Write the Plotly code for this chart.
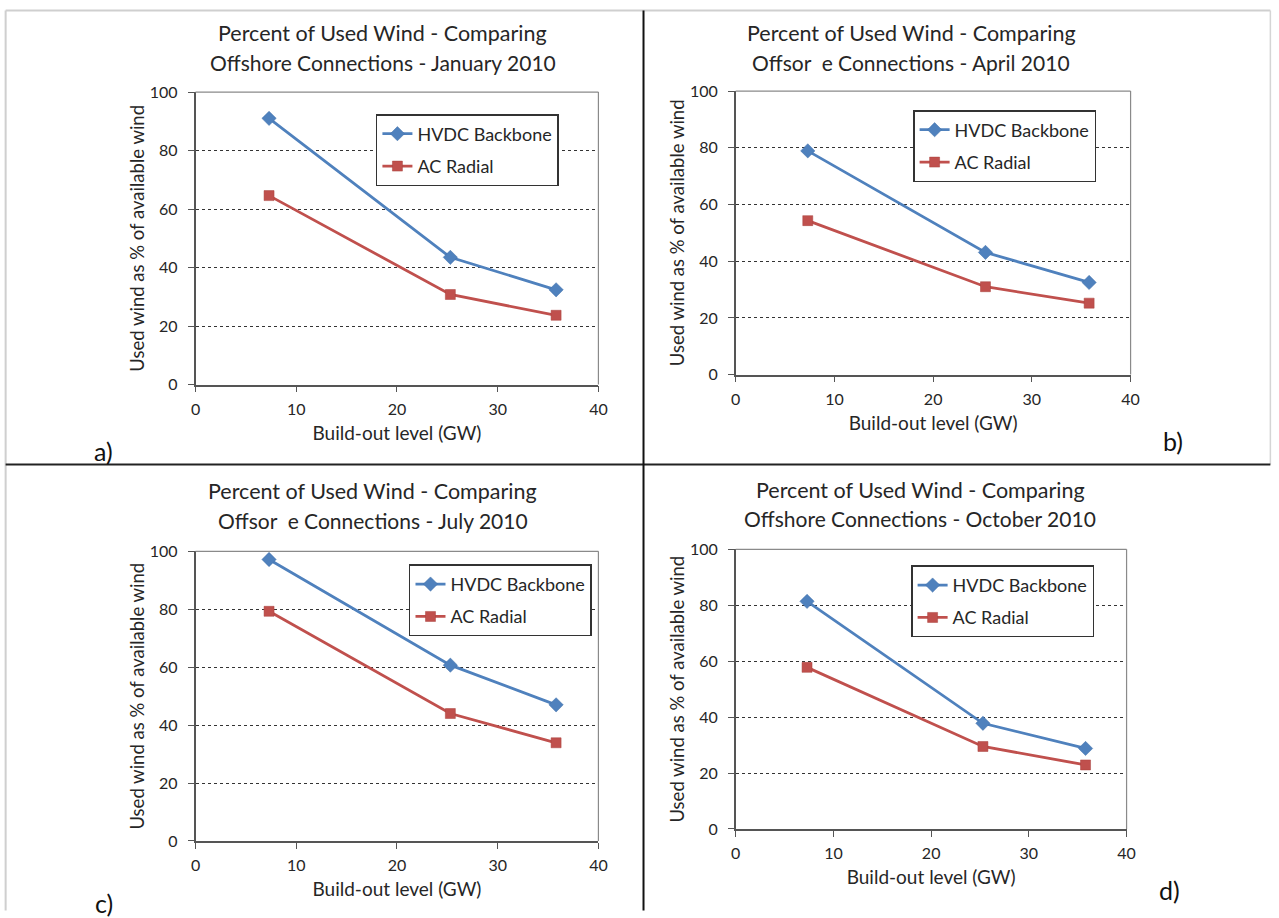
import plotly.graph_objects as go

# Target picture size and the page geometry it is taken from (the page is
# photographed slightly larger than the picture and keeps an 8px body margin).
PIC_W, PIC_H = 1279, 918
PAGE_W, PAGE_H = 1296, 936
MARGIN = 8
W, H = PAGE_W - 2 * MARGIN, PAGE_H - 2 * MARGIN
SX, SY = PAGE_W / PIC_W, PAGE_H / PIC_H

# ---------------- data ----------------
build_out_gw = [7.3, 25.3, 35.8]

months = ["January 2010", "April 2010", "July 2010", "October 2010"]
title_line1 = "Percent of Used Wind - Comparing"
title_line2 = [
    "Offshore Connections - January 2010",
    "Offsor  e Connections - April 2010",
    "Offsor  e Connections - July 2010",
    "Offshore Connections - October 2010",
]
panel_labels = ["a)", "b)", "c)", "d)"]

hvdc_jan = [91.0, 43.5, 32.4]
ac_jan = [64.6, 30.8, 23.7]
hvdc_apr = [78.9, 43.1, 32.5]
ac_apr = [54.3, 31.0, 25.2]
hvdc_jul = [97.2, 60.7, 47.0]
ac_jul = [79.3, 44.0, 33.9]
hvdc_oct = [81.4, 37.8, 28.8]
ac_oct = [57.8, 29.5, 22.9]

hvdc_series = [hvdc_jan, hvdc_apr, hvdc_jul, hvdc_oct]
ac_series = [ac_jan, ac_apr, ac_jul, ac_oct]

x_ticks = [0, 10, 20, 30, 40]
y_ticks = [0, 20, 40, 60, 80, 100]
series_names = ["HVDC Backbone", "AC Radial"]

# ---------------- layout helpers (picture pixel geometry) ----------------
def fx(p):
    return min(max((p * SX - MARGIN) / W, 0.0005), 0.9995)

def fy(p):
    return min(max(1 - (p * SY - MARGIN) / H, 0.0005), 0.9995)

# plot areas: (left, right, top, bottom) in picture pixels
plot_px = [
    (198, 600, 90, 383),
    (737, 1131, 89, 373),
    (198, 600, 550, 840),
    (737, 1127, 548, 828),
]
legend_px = [(378, 112), (914, 108), (411, 563), (912, 564)]
title_px = [(385, 31, 60), (912, 31, 60), (375, 490, 519), (921, 489, 517)]
label_px = [(106, 449), (1173, 439), (107, 902), (1170, 889)]

BLUE = "#4F81BD"
RED = "#C0504D"
TXT = "#262626"
FONT = "Lato"

fig = go.Figure()
layout = dict(
    width=W,
    height=H,
    margin=dict(l=0, r=0, t=0, b=0),
    paper_bgcolor="white",
    plot_bgcolor="white",
    font=dict(family=FONT, color=TXT),
    showlegend=True,
)
shapes = []
annotations = []

for i in range(4):
    n = "" if i == 0 else str(i + 1)
    xa, ya = "x" + n, "y" + n
    leg = "legend" if i == 0 else "legend" + str(i + 1)
    l, r, t, b = plot_px[i]

    fig.add_trace(go.Scatter(
        x=build_out_gw, y=hvdc_series[i], name=series_names[0],
        mode="lines+markers", xaxis=xa, yaxis=ya, legend=leg,
        legendgroup="h" + n,
        line=dict(color=BLUE, width=2.8),
        marker=dict(symbol="diamond", size=11, color=BLUE,
                    line=dict(color="#3f6fa8", width=0.5)),
    ))
    fig.add_trace(go.Scatter(
        x=build_out_gw, y=ac_series[i], name=series_names[1],
        mode="lines+markers", xaxis=xa, yaxis=ya, legend=leg,
        legendgroup="a" + n,
        line=dict(color=RED, width=2.8),
        marker=dict(symbol="square", size=10, color=RED,
                    line=dict(color="#a9403d", width=0.5)),
    ))

    layout["xaxis" + n] = dict(
        domain=[fx(l), fx(r)], anchor=ya, range=[0, 40],
        tickvals=x_ticks, ticks="outside", ticklen=6, tickcolor="#555",
        ticklabelstandoff=3,
        showline=True, linecolor="#555", linewidth=1.5,
        showgrid=False, zeroline=False,
        tickfont=dict(size=16, family=FONT, color=TXT),
        title=dict(text="Build-out level (GW)", font=dict(size=19, family=FONT, color=TXT), standoff=10),
    )
    layout["yaxis" + n] = dict(
        domain=[fy(b), fy(t)], anchor=xa, range=[0, 100],
        tickvals=y_ticks, ticks="outside", ticklen=6, tickcolor="#555",
        ticklabelstandoff=7,
        showline=True, linecolor="#555", linewidth=1.5,
        showgrid=True, gridcolor="#333", griddash="dot", gridwidth=1,
        zeroline=False,
        tickfont=dict(size=16, family=FONT, color=TXT),
        title=dict(text="Used wind as % of available wind", font=dict(size=18.5, family=FONT, color=TXT), standoff=0),
    )
    lx, ly = legend_px[i]
    layout[leg] = dict(
        x=fx(lx), y=fy(ly), xanchor="left", yanchor="top",
        bordercolor="#333", borderwidth=1.5, bgcolor="white",
        font=dict(size=18, family=FONT, color=TXT),
        tracegroupgap=6, itemwidth=30,
    )
    # plot-area frame (top and right, gray)
    shapes.append(dict(type="line", xref="paper", yref="paper",
                       x0=fx(l), x1=fx(r), y0=fy(t), y1=fy(t),
                       line=dict(color="#8a8a8a", width=1.2)))
    shapes.append(dict(type="line", xref="paper", yref="paper",
                       x0=fx(r), x1=fx(r), y0=fy(t), y1=fy(b),
                       line=dict(color="#8a8a8a", width=1.2)))
    # titles
    cx, y1, y2 = title_px[i]
    annotations.append(dict(text=title_line1, x=fx(cx), y=fy(y1), xref="paper", yref="paper",
                            xanchor="center", yanchor="middle", showarrow=False,
                            font=dict(size=21.5, family=FONT, color=TXT)))
    annotations.append(dict(text=title_line2[i], x=fx(cx), y=fy(y2), xref="paper", yref="paper",
                            xanchor="center", yanchor="middle", showarrow=False,
                            font=dict(size=21, family=FONT, color=TXT)))
    px_, py_ = label_px[i]
    annotations.append(dict(text=panel_labels[i], x=fx(px_), y=fy(py_), xref="paper", yref="paper",
                            xanchor="center", yanchor="middle", showarrow=False,
                            font=dict(size=25, family=FONT, color="#111")))

# page separators and outer light borders
shapes += [
    dict(type="line", xref="paper", yref="paper", x0=fx(7), x1=fx(1279), y0=fy(6), y1=fy(6),
         line=dict(color="#cfcfcf", width=2)),
    dict(type="line", xref="paper", yref="paper", x0=fx(7), x1=fx(7), y0=fy(918), y1=fy(6),
         line=dict(color="#cfcfcf", width=2)),
    dict(type="line", xref="paper", yref="paper", x0=fx(1278), x1=fx(1278), y0=fy(463), y1=fy(6),
         line=dict(color="#d5d5d5", width=1.5)),
    dict(type="line", xref="paper", yref="paper", x0=fx(0), x1=fx(1279), y0=fy(463), y1=fy(463),
         line=dict(color="#222", width=2)),
    dict(type="line", xref="paper", yref="paper", x0=fx(645), x1=fx(645), y0=fy(918), y1=fy(0),
         line=dict(color="#111", width=2)),
]
layout["shapes"] = shapes
layout["annotations"] = annotations
fig.update_layout(**layout)

fig.write_html("out.html")
